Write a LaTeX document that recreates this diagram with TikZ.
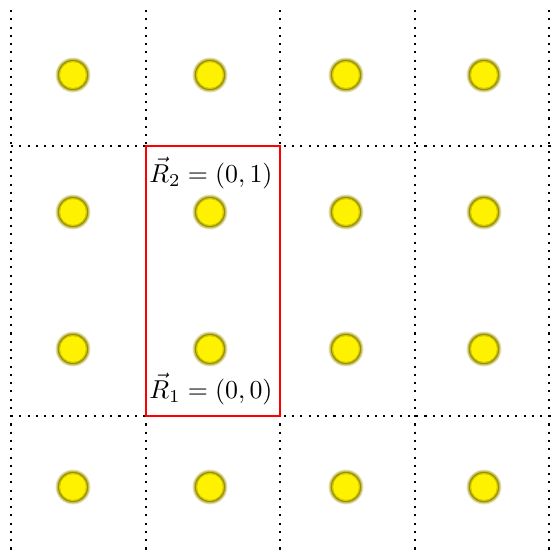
\documentclass[tikz,border=0pt]{standalone}
\begin{document}
\begin{tikzpicture}[x=0.387pt,y=-0.387pt,
  gridline/.style={line width=0.8pt,dash pattern=on 0.8pt off 2.4pt},
  cellbox/.style={draw=red,line width=0.8pt},
  lbl/.style={inner sep=0pt}]
\useasboundingbox (0,0) rectangle (551,553);
% grid
\foreach \x in {11,146,280,415,549}
  \draw[gridline] (\x,10) -- (\x,553);
\foreach \y in {146,416}
  \draw[gridline] (11,\y) -- (551,\y);
% atoms
\foreach \x in {73,210,346,484}
  \foreach \y in {75,212,349,487}{
    \fill[olive!20] (\x,\y) circle (17.5);
    \fill[olive!50] (\x,\y) circle (16.5);
    \fill[olive!80!yellow!90!black] (\x,\y) circle (15.2);
    \fill[olive!40!yellow] (\x,\y) circle (14);
    \fill[yellow] (\x,\y) circle (12.8);
  }
% cell
\draw[cellbox] (146,146) rectangle (280,416);
\node[lbl] (r2) at (211,173) {$\vec{R}_2=(0,1)$};
\node[lbl] (r1) at (211,389) {$\vec{R}_1=(0,0)$};
\end{tikzpicture}
\end{document}
